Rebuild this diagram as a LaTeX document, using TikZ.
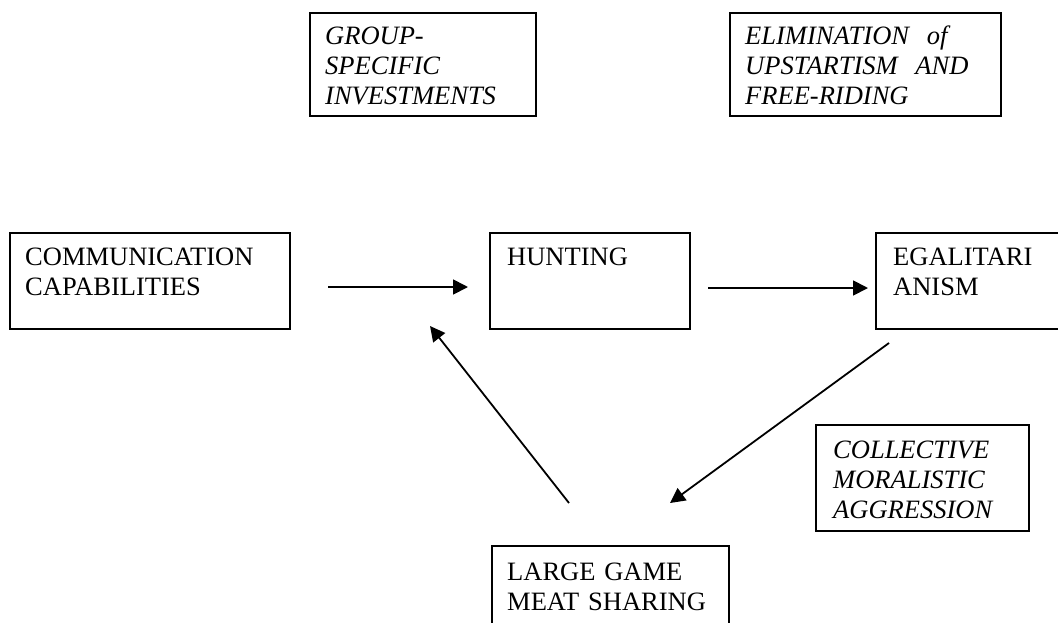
\documentclass[tikz,border=0pt]{standalone}
\usepackage{fontspec}
\setmainfont{Liberation Serif}
\usetikzlibrary{arrows.meta}
\begin{document}
\begin{tikzpicture}[x=1pt,y=-1pt,
  frame/.style={draw, line width=1.8pt, inner sep=0pt, anchor=north west},
  txt/.style={anchor=base west, inner sep=0pt, align=left, text width=#1,
    font=\fontsize{26.5}{30}\selectfont},
  itxt/.style={txt=#1, font=\fontsize{26.5}{30}\selectfont\itshape},
  link/.style={line width=1.8pt, -{Triangle[length=15pt,width=15pt]}}]
\useasboundingbox (0,0) rectangle (1058,622);

% frames
\node[frame, minimum width=226pt, minimum height=103pt] (group) at (309,12) {};
\node[frame, minimum width=271pt, minimum height=103pt] (elim) at (729,12) {};
\node[frame, minimum width=280pt, minimum height=96pt] (comm) at (9,232) {};
\node[frame, minimum width=200pt, minimum height=96pt] (hunt) at (489,232) {};
\node[frame, minimum width=190pt, minimum height=96pt] (egal) at (875,232) {};
\node[frame, minimum width=213pt, minimum height=106pt] (coll) at (815,424) {};
\node[frame, minimum width=237pt, minimum height=100pt] (large) at (491,545) {};

% labels
\node[itxt=200pt] (groupT) at (325,44) {GROUP-\\SPECIFIC\\INVESTMENTS};
\node[itxt=250pt] (elimT) at (745,44) {ELIMINATION\ \ of\\UPSTARTISM\ \ AND\\FREE-RIDING};
\node[txt=260pt] (commT) at (25,265) {COMMUNICATION\\CAPABILITIES};
\node[txt=170pt] (huntT) at (507,265) {HUNTING};
\node[txt=160pt] (egalT) at (893,265) {EGALITARI\\ANISM};
\node[itxt=190pt] (collT) at (833,458) {COLLECTIVE\\MORALISTIC\\AGGRESSION};
\node[txt=210pt] (largeT) at (507,580) {LARGE GAME\\MEAT SHARING};

% connector ends
\coordinate (c1s) at (328,287);
\coordinate (c1e) at (468,287);
\coordinate (c2s) at (708,288);
\coordinate (c2e) at (868,288);
\coordinate (c3s) at (889,343);
\coordinate (c3e) at (670,503);
\coordinate (c4s) at (569,503);
\coordinate (c4e) at (430,326);

\draw[link] (c1s) -- (c1e);
\draw[link] (c2s) -- (c2e);
\draw[link] (c3s) -- (c3e);
\draw[link] (c4s) -- (c4e);
\end{tikzpicture}
\end{document}
